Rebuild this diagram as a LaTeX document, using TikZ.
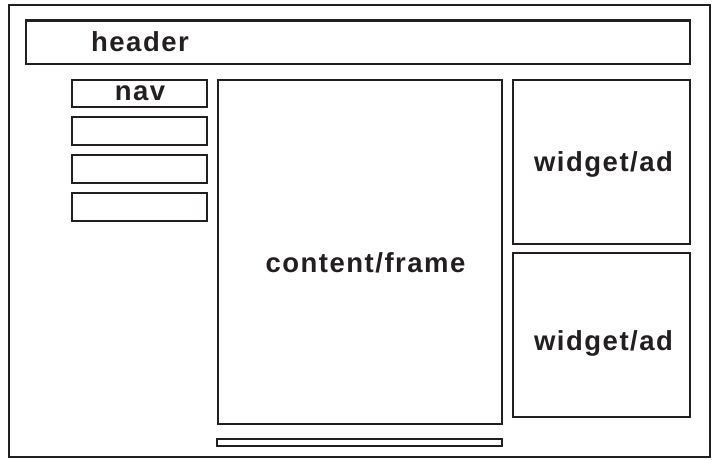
\documentclass[tikz,border=0pt]{standalone}
\usepackage{fontspec}
\setmainfont{Liberation Sans}[LetterSpace=5.5]
\definecolor{ink}{HTML}{231F20}
\begin{document}
\begin{tikzpicture}[x=1pt,y=-1pt,
  box/.style={draw=ink, line width=2.6pt, rectangle, inner sep=0pt, fill=white},
  lbl/.style={anchor=base, inner sep=0pt, text=ink, font=\fontsize{27.5}{30}\selectfont\bfseries}]
\useasboundingbox (0,0) rectangle (718,459);
\node[box, minimum width=701, minimum height=452] (outer) at (359.5,231) {};
\node[box, minimum width=664, minimum height=43.5] (header) at (358,42.25) {};
\node[box, minimum width=135, minimum height=27] (nav1) at (139.5,93.5) {};
\node[box, minimum width=135, minimum height=28] (nav2) at (139.5,131) {};
\node[box, minimum width=135, minimum height=28] (nav3) at (139.5,169) {};
\node[box, minimum width=135, minimum height=28] (nav4) at (139.5,207) {};
\node[box, minimum width=284, minimum height=344] (content) at (360,252) {};
\node[box, minimum width=285, minimum height=7] (bar) at (359.5,442.5) {};
\node[box, minimum width=177, minimum height=164] (w1) at (601.5,162) {};
\node[box, minimum width=177, minimum height=164] (w2) at (601.5,335) {};
\node[lbl] (theader) at (140,51.5) {header};
\node[lbl] (tnav) at (140,100) {nav};
\node[lbl] (tcontent) at (365.5,272.5) {content/frame};
\node[lbl] (tw1) at (603.5,171) {widget/ad};
\node[lbl] (tw2) at (603.5,350) {widget/ad};
\end{tikzpicture}
\end{document}
